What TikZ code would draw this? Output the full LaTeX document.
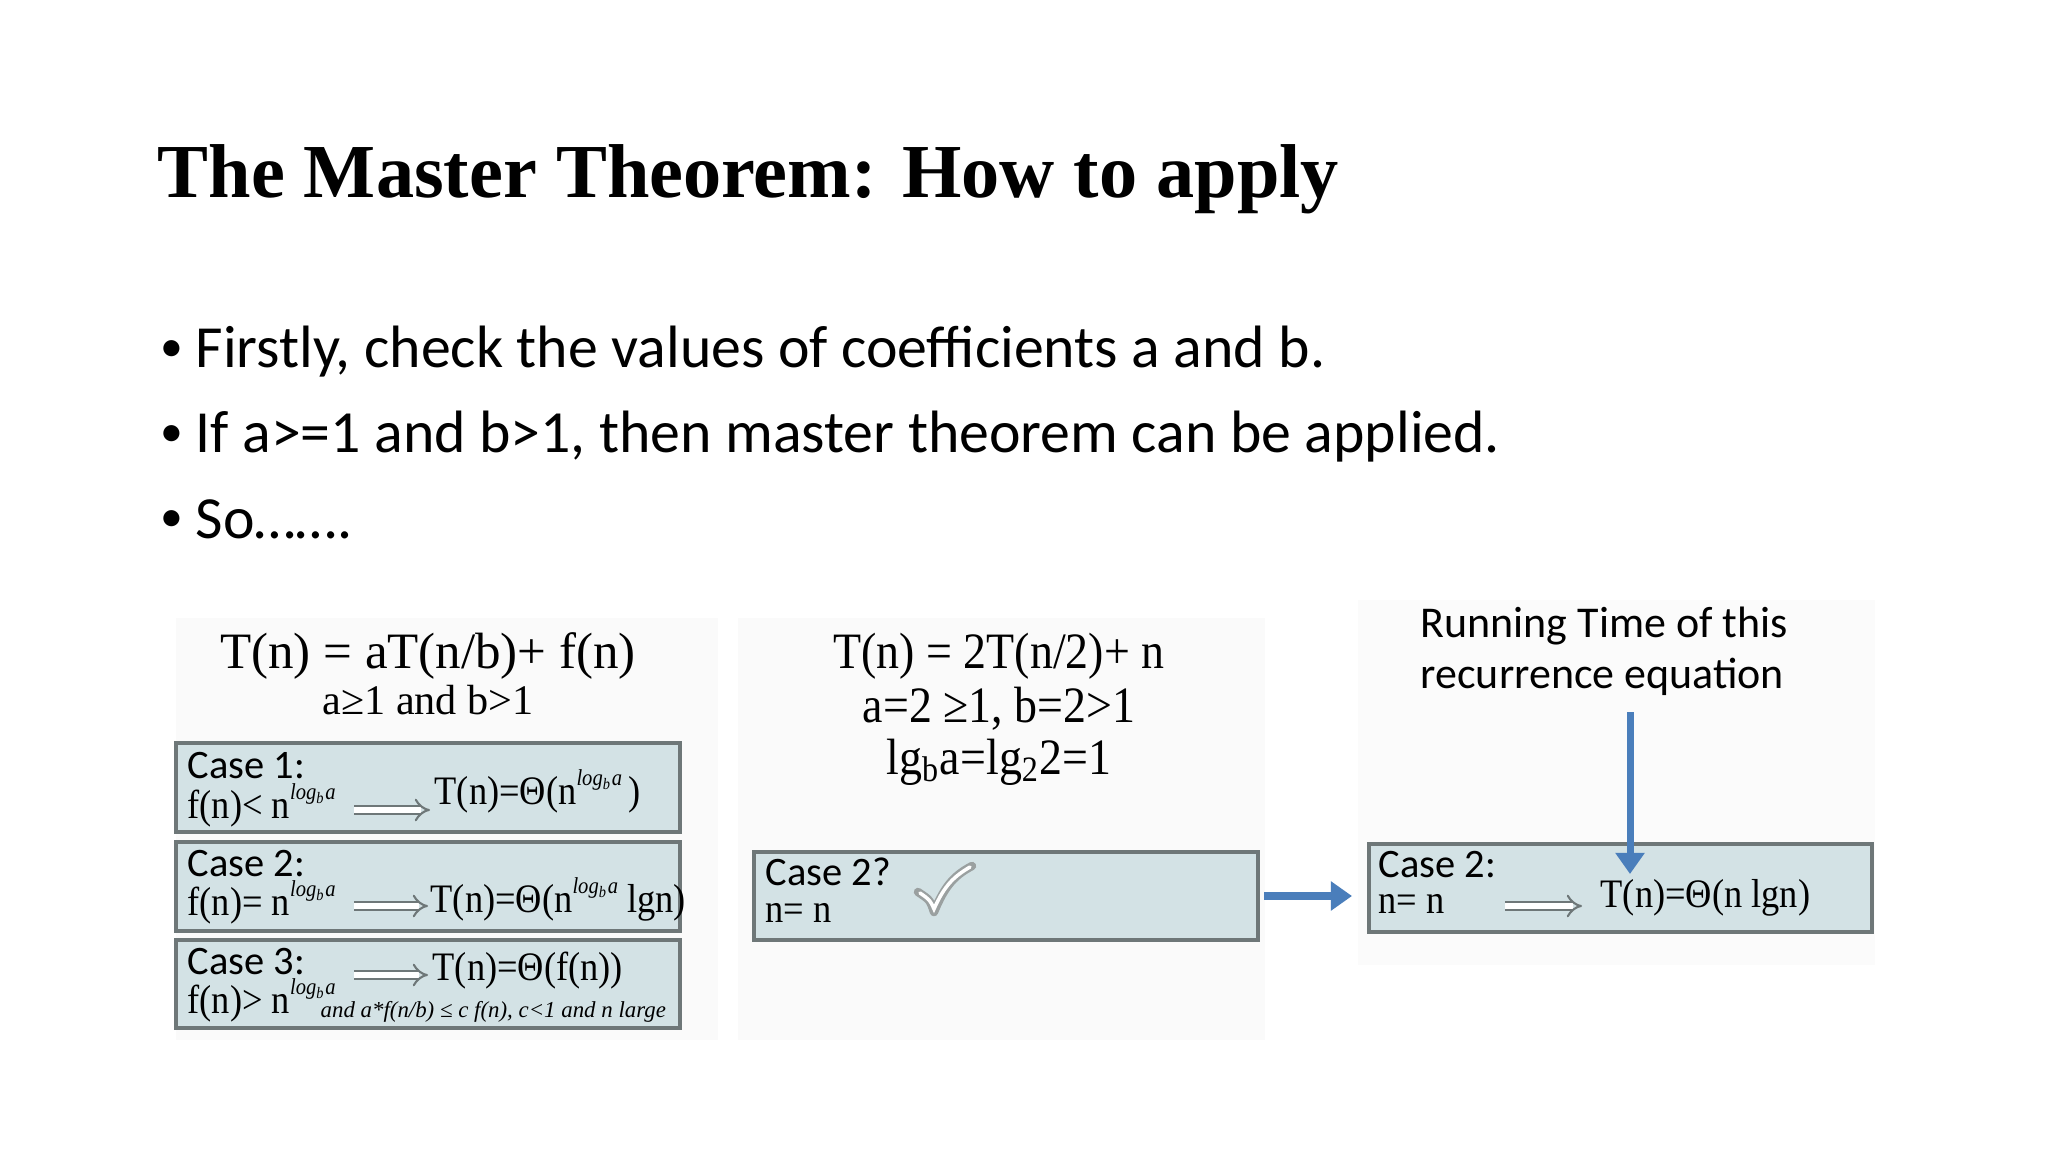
\documentclass[tikz,border=0pt]{standalone}
\usepackage{fontspec}
\setmainfont{Liberation Serif}
\newfontfamily\carl{Carlito}
\newfontfamily\nar[FakeStretch=0.9]{Liberation Serif}
\usetikzlibrary{arrows.meta}
\definecolor{boxfill}{HTML}{D3E2E5}
\definecolor{boxline}{HTML}{6E7778}
\definecolor{arrblue}{HTML}{4A7EBB}
\newcommand{\lgb}{\raisebox{1.0ex}{\fontsize{6.5}{7}\selectfont\itshape log\textsubscript{b}a}}
\begin{document}
\begin{tikzpicture}[x=0.01cm,y=-0.01cm,
  cbox/.style={draw=boxline,line width=1pt,fill=boxfill},
  lbl/.style={anchor=base west,inner sep=0pt},
  ctr/.style={anchor=base,inner sep=0pt},
  casef/.style={font=\carl\fontsize{11.5}{13}\selectfont},
  mathf/.style={font=\nar\fontsize{11.5}{13}\selectfont},
  hollow/.style={draw=boxline,double=white,double distance=1.6pt,line width=0.6pt,-{Implies}},
  blue/.style={draw=arrblue,line width=2pt,-{Triangle[length=6pt,width=8pt]}}]
\useasboundingbox (0,0) rectangle (2048,1152);
\fill[white] (0,0) rectangle (2048,1152);
% faint image panes
\fill[black!2] (176,618) rectangle (718,1040);
\fill[black!2] (738,618) rectangle (1265,1040);
\fill[black!1.5] (1358,600) rectangle (1875,965);
% title
\node[lbl,font=\bfseries\fontsize{21.7}{26}\selectfont] (title) at (157,198) {The Master Theorem: How to apply};
% bullets
\foreach \y/\t [count=\i] in {368/{Firstly, check the values of coefficients a and b.},453/{If a>=1 and b>1, then master theorem can be applied.},538/{So…….}}{
  \node[lbl,font=\carl\fontsize{17}{20}\selectfont] (b\i) at (195,\y) {\t};
  \node[lbl,font=\carl\fontsize{13}{16}\selectfont] (d\i) at (160,\y-6) {•};
}
% left formula
\node[ctr,font=\fontsize{14.5}{17}\selectfont] (f1) at (428,669) {T(n) = aT(n/b)+ f(n)};
\node[ctr,font=\fontsize{12}{14}\selectfont] (f2) at (428,714) {a≥1 and b>1};
% case boxes
\draw[cbox] (176,743) rectangle (680,832);
\draw[cbox] (176,842) rectangle (680,931);
\draw[cbox] (176,940) rectangle (680,1028);
\node[lbl,casef] (c1) at (187,778) {Case 1:};
\node[lbl,mathf] (c1b) at (187,818) {f(n)< n\lgb};
\coordinate (a1s) at (354,810); \coordinate (a1e) at (430,810);
\draw[hollow] (a1s) -- (a1e);
\node[lbl,mathf] (c1r) at (434,804) {T(n)=Θ(n\lgb\,)};
\node[lbl,casef] (c2) at (187,876) {Case 2:};
\node[lbl,mathf] (c2b) at (187,915) {f(n)= n\lgb};
\coordinate (a2s) at (354,906); \coordinate (a2e) at (428,906);
\draw[hollow] (a2s) -- (a2e);
\node[lbl,mathf] (c2r) at (430,912) {T(n)=Θ(n\lgb\ lgn)};
\node[lbl,casef] (c3) at (187,974) {Case 3:};
\node[lbl,mathf] (c3b) at (187,1013) {f(n)> n\lgb};
\coordinate (a3s) at (354,975); \coordinate (a3e) at (428,975);
\draw[hollow] (a3s) -- (a3e);
\node[lbl,mathf] (c3r) at (432,980) {T(n)=Θ(f(n))};
\node[lbl,font=\itshape\fontsize{6.5}{8}\selectfont] (c3c) at (320,1017) {and a*f(n/b) ≤ c f(n), c<1 and n large};
% middle
\node[ctr,font=\nar\fontsize{14.5}{17}\selectfont] (m1) at (999,669) {T(n) = 2T(n/2)+ n};
\node[ctr,font=\nar\fontsize{14.5}{17}\selectfont] (m2) at (999,722) {a=2 ≥1, b=2>1};
\node[ctr,font=\nar\fontsize{14.5}{17}\selectfont] (m3) at (999,774) {lg\textsubscript{b}a=lg\textsubscript{2}2=1};
\node[cbox,minimum width=5.04cm,minimum height=0.88cm,anchor=north west,inner sep=0pt] (mb) at (752,850) {};
\node[lbl,casef] (mc) at (765,885) {Case 2?};
\node[lbl,mathf] (mn) at (765,922) {n= n};
\draw[line width=2.4pt,boxline!70,line cap=round,line join=round] (918,892) .. controls (930,900) .. (934,912) .. controls (945,885) and (955,875) .. (972,866);
\draw[line width=1pt,white,line cap=round] (920,893) .. controls (930,900) .. (934,909) .. controls (945,884) and (955,876) .. (970,867);
% right
\node[lbl,font=\carl\fontsize{12.5}{15}\selectfont] (r1) at (1420,637) {Running Time of this};
\node[lbl,font=\carl\fontsize{12.5}{15}\selectfont] (r2) at (1420,689) {recurrence equation};
\node[cbox,minimum width=5.03cm,minimum height=0.88cm,anchor=north west,inner sep=0pt] (rb) at (1367,842) {};
\node[lbl,casef] (rc) at (1378,877) {Case 2:};
\node[lbl,mathf] (rn) at (1378,913) {n= n};
\coordinate (ras) at (1505,906); \coordinate (rae) at (1582,906);
\draw[hollow] (ras) -- (rae);
\node[lbl,mathf] (rr) at (1600,907) {T(n)=Θ(n lgn)};
\coordinate (vs) at (1630,712); \coordinate (ve) at (1630,874);
\draw[blue] (vs) -- (ve);
\coordinate (hs) at (1264,896); \coordinate (he) at (1352,896);
\draw[blue] (hs) -- (he);
\end{tikzpicture}
\end{document}
